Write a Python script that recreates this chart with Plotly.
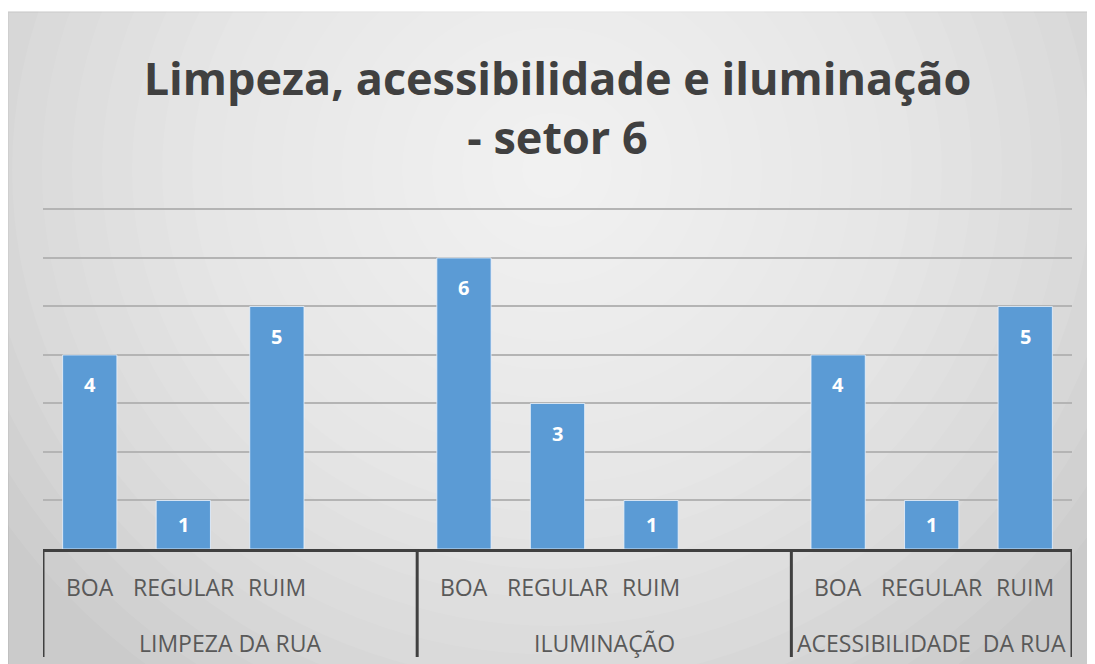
import plotly.graph_objects as go

# ---------------- data ----------------
categories = ["LIMPEZA DA RUA", "ILUMINAÇÃO", "ACESSIBILIDADE  DA RUA"]
ratings = ["BOA", "REGULAR", "RUIM"]
limpeza = [4, 1, 5]
iluminacao = [6, 3, 1]
acessibilidade = [4, 1, 5]
series = [limpeza, iluminacao, acessibilidade]
y_ticks = [0, 1, 2, 3, 4, 5, 6, 7]
title_text = "Limpeza, acessibilidade e iluminação<br>- setor 6"

# ---------------- layout constants ----------------
# the page adds an 8px body margin, so page pixel p maps to figure pixel p - 8
OFF = 8
W, H = 1087, 656
ML, MR, MT, MB = 35, 23, 200, 115
PW, PH = W - ML - MR, H - MT - MB
Y_TOP = y_ticks[-1] + 0.03
UNIT = PH / (Y_TOP - y_ticks[0])

def pg_x(px):   # page x -> paper x
    return (px - OFF - ML) / PW

def pg_y(py):   # page y -> paper y
    return (H - MB - (py - OFF)) / PH

# slots: Excel left a blank slot after the first two groups
slot_x, slot_lab, y_vals, group_span = [], [], [], []
pos = 0
for gi, (cat, vals) in enumerate(zip(categories, series)):
    start = pos
    for r, v in zip(ratings, vals):
        slot_x.append(pos)
        slot_lab.append(r)
        y_vals.append(v)
        pos += 1
    if gi < len(categories) - 1:
        pos += 1
    group_span.append((start - 0.5, pos - 0.5))
N_SLOTS = pos

fig = go.Figure()
fig.add_trace(go.Bar(
    x=slot_x, y=y_vals,
    marker=dict(color="#5B9BD5", line=dict(color="rgba(235,243,252,0.8)", width=1)),
    width=0.58, hoverinfo="skip", showlegend=False,
))

annotations = []
# value labels inside the bars
for xi, v in zip(slot_x, y_vals):
    annotations.append(dict(
        x=xi, y=v, xref="x", yref="y", text=str(v), showarrow=False,
        yshift=-min(30, v * UNIT / 2), yanchor="middle",
        font=dict(family="Open Sans", size=20, color="white", weight=700),
    ))
# rating labels (first level of the category axis)
for xi, lab in zip(slot_x, slot_lab):
    annotations.append(dict(
        x=xi, y=pg_y(587), xref="x", yref="paper", text=lab, showarrow=False,
        xanchor="center", yanchor="middle",
        font=dict(family="Open Sans", size=23, color="#595959"),
    ))
# group labels (second level)
for cat, (a, b) in zip(categories, group_span):
    annotations.append(dict(
        x=(a + b) / 2, y=pg_y(643), xref="x", yref="paper", text=cat, showarrow=False,
        xanchor="center", yanchor="middle",
        font=dict(family="Open Sans", size=23, color="#595959"),
    ))

# background: gray card with radial-ish light centre
shapes = [dict(type="rect", xref="paper", yref="paper", layer="below",
               x0=pg_x(OFF), x1=pg_x(W + OFF + 4), y0=pg_y(H + OFF + 4), y1=pg_y(12),
               fillcolor="#cbcbcb", line=dict(color="#b5b5b5", width=1))]
cx, cy = 552, 170
NR = 22
for k in range(NR):
    r = 660 * (1 - k / NR)
    shapes.append(dict(type="circle", xref="paper", yref="paper", layer="below",
                       x0=pg_x(cx - r), x1=pg_x(cx + r),
                       y0=pg_y(cy + r * 0.95), y1=pg_y(cy - r * 0.95),
                       fillcolor="rgba(255,255,255,0.075)", line=dict(width=0)))
# category dividers of the axis
bounds = sorted({b for span in group_span for b in span})
for bx in bounds:
    shapes.append(dict(type="line", xref="x", yref="paper", layer="above",
                       x0=bx, x1=bx, y0=0, y1=pg_y(657),
                       line=dict(color="#404040", width=3)))

fig.update_layout(
    width=W, height=H,
    margin=dict(l=ML, r=MR, t=MT, b=MB, autoexpand=False),
    paper_bgcolor="white", plot_bgcolor="rgba(0,0,0,0)",
    shapes=shapes, annotations=annotations,
    title=dict(text=title_text, x=549.5 / W, xanchor="center", xref="container",
               y=1 - 87 / H, yanchor="top", yref="container",
               font=dict(family="Open Sans", size=45, color="#404040", weight=700)),
    font=dict(family="Open Sans"),
)
fig.update_xaxes(
    type="linear", showline=True, linecolor="#404040", linewidth=3,
    showgrid=False, ticks="", showticklabels=False, zeroline=False,
    range=[-0.5, N_SLOTS - 0.5],
)
fig.update_yaxes(
    range=[y_ticks[0], Y_TOP], tickvals=y_ticks, showticklabels=False,
    showgrid=True, gridcolor="#b4b4b4", gridwidth=2, zeroline=False, showline=False,
)

fig.write_html("out.html")
